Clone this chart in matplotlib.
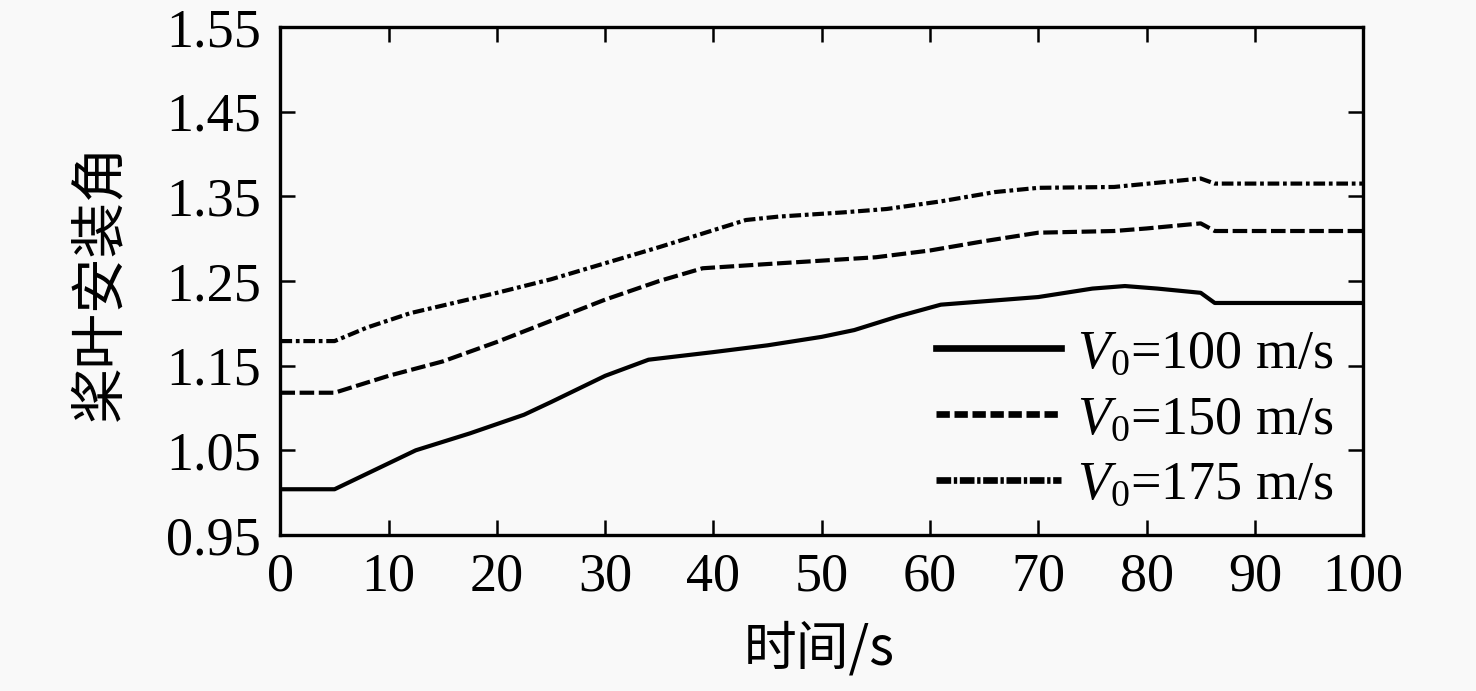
import matplotlib
matplotlib.use("Agg")
import matplotlib.pyplot as plt
from matplotlib.lines import Line2D

plt.rcParams['font.family'] = ['Liberation Serif', 'Noto Sans CJK SC', 'DejaVu Sans']
plt.rcParams['mathtext.fontset'] = 'custom'
plt.rcParams['mathtext.rm'] = 'Liberation Serif'
plt.rcParams['mathtext.it'] = 'Liberation Serif:italic'

# V0 = 100 m/s
t1 = [0, 5, 12.5, 17.5, 22.5, 25, 30, 34, 40, 45, 50, 53, 57, 61, 66, 70, 75, 78, 81, 85, 86.3, 100]
v1 = [1.004, 1.004, 1.050, 1.070, 1.092, 1.107, 1.138, 1.157, 1.166, 1.174, 1.184, 1.192,
      1.208, 1.222, 1.227, 1.231, 1.241, 1.244, 1.241, 1.236, 1.224, 1.224]
# V0 = 150 m/s
t2 = [0, 5, 10, 15, 20, 25, 30, 35, 39, 45, 50, 55, 60, 65, 70, 77, 80, 85, 86.3, 100]
v2 = [1.118, 1.118, 1.138, 1.155, 1.178, 1.203, 1.228, 1.250, 1.265, 1.270, 1.274, 1.278,
      1.286, 1.297, 1.307, 1.309, 1.312, 1.318, 1.309, 1.309]
# V0 = 175 m/s
t3 = [0, 5, 8, 12, 20, 25, 30, 35, 40, 43, 46, 52, 56, 61, 66, 70, 77, 81, 85, 86.3, 100]
v3 = [1.179, 1.179, 1.195, 1.212, 1.236, 1.252, 1.271, 1.290, 1.310, 1.322, 1.326, 1.331,
      1.335, 1.344, 1.355, 1.360, 1.361, 1.366, 1.371, 1.365, 1.365]

labels = [r'$V_0$=100 m/s', r'$V_0$=150 m/s', r'$V_0$=175 m/s']
xticks = list(range(0, 101, 10))
yticks = [0.95, 1.05, 1.15, 1.25, 1.35, 1.45, 1.55]

bg = '#f9f9f9'
fig = plt.figure(figsize=(14.76, 6.91), dpi=100, facecolor=bg)
ax = fig.add_axes([0.190, 0.2258, 0.7335, 0.7352], facecolor=bg)

lw = 3.0
ax.plot(t1, v1, color='black', lw=lw, solid_joinstyle='round')
ax.plot(t2, v2, color='black', lw=lw, dashes=(3.5, 1.1))
ax.plot(t3, v3, color='black', lw=lw, dashes=(2.8, 0.9, 0.9, 0.9))

ax.set_xlim(0, 100)
ax.set_ylim(0.95, 1.55)
ax.set_xticks(xticks)
ax.set_yticks(yticks)
ax.set_yticklabels([f'{y:.2f}' for y in yticks])

for s in ax.spines.values():
    s.set_linewidth(2.4)

ax.tick_params(axis='both', which='both', direction='in', length=11, width=1.8,
               labelsize=39, colors='black')
ax.tick_params(axis='y', pad=14)
ax.tick_params(axis='x', pad=12)
ax.tick_params(top=True, right=True)
for tk in ax.xaxis.get_major_ticks():
    tk.tick2line.set_color('#ececec')
for tk in ax.yaxis.get_major_ticks():
    tk.tick2line.set_color('#ececec')

ax.set_ylabel('桨叶安装角', fontsize=40, family=['Noto Sans CJK SC', 'DejaVu Sans'])
ax.yaxis.set_label_coords(-0.140, 0.498)
ax.set_xlabel('时间/s', fontsize=38, family=['Noto Sans CJK SC', 'Liberation Serif'])
ax.xaxis.set_label_coords(0.498, -0.17)

hlw = 4.8
handles = [
    Line2D([], [], color='black', lw=hlw),
    Line2D([], [], color='black', lw=hlw, dashes=(2.0, 0.7)),
    Line2D([], [], color='black', lw=hlw, dashes=(2.2, 0.4, 0.5, 0.4)),
]
ax.legend(handles, labels, loc='lower right', bbox_to_anchor=(0.993, 0.005),
          frameon=False, fontsize=39, handlelength=2.3, handletextpad=0.3,
          labelspacing=0.28, borderaxespad=0.0)

fig.savefig('out.png', dpi=100, facecolor=bg)
